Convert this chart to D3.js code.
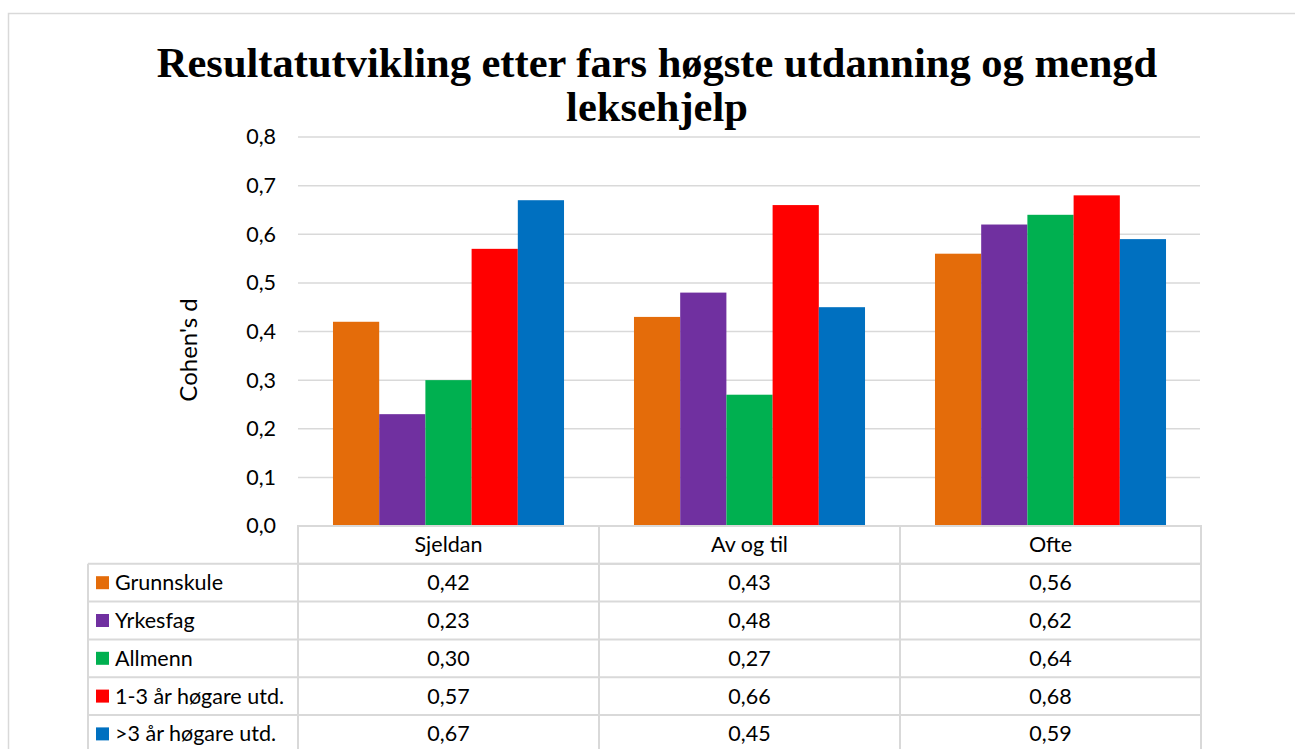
<!DOCTYPE html>
<html><head><meta charset="utf-8">
<script src="https://cdn.jsdelivr.net/npm/d3@7"></script>
<style>body{margin:0;background:#fff}svg{display:block}</style>
</head><body>
<svg id="c" width="1295" height="749"></svg>
<script>
const categories = ["Sjeldan", "Av og til", "Ofte"];
const seriesNames = ["Grunnskule", "Yrkesfag", "Allmenn", "1-3 år høgare utd.", ">3 år høgare utd."];
const grunnskule = [0.42, 0.43, 0.56];
const yrkesfag = [0.23, 0.48, 0.62];
const allmenn = [0.30, 0.27, 0.64];
const hogare13 = [0.57, 0.66, 0.68];
const hogare3 = [0.67, 0.45, 0.59];
const colors = ["#E46C0A", "#7030A0", "#00B050", "#FF0000", "#0070C0"];
const yTicks = [0, 0.1, 0.2, 0.3, 0.4, 0.5, 0.6, 0.7, 0.8];
const titleLines = ["Resultatutvikling etter fars høgste utdanning og mengd", "leksehjelp"];
const yLabel = "Cohen's d";

const seriesValues = [grunnskule, yrkesfag, allmenn, hogare13, hogare3];
const fmt = v => v.toFixed(2).replace(".", ",");
const fmtTick = v => v.toFixed(1).replace(".", ",");

const svg = d3.select("#c");
const font = "Lato, 'Open Sans', sans-serif";
const fs = 21.5;
const grid = "#d9d9d9";

// frame
svg.append("rect").attr("x", 8.5).attr("y", 13.5).attr("width", 1400).attr("height", 1000)
  .attr("fill", "#fff").attr("stroke", grid).attr("stroke-width", 1.5);

// title
svg.append("g").selectAll("text").data(titleLines).join("text")
  .attr("x", 657).attr("y", (d, i) => 77 + i * 44)
  .attr("text-anchor", "middle")
  .attr("font-family", "'Liberation Serif', 'Times New Roman', serif")
  .attr("font-weight", "bold").attr("font-size", 42.5).attr("fill", "#000")
  .text(d => d);

const pLeft = 298, pRight = 1201, pTop = 137, pBottom = 526;
const y = d3.scaleLinear().domain([0, 0.8]).range([pBottom, pTop]);
const x0 = d3.scaleBand().domain(categories).range([pLeft, pRight]).paddingInner(0).paddingOuter(0);
const x1 = d3.scaleBand().domain(d3.range(seriesNames.length)).range([0, x0.bandwidth()])
  .paddingInner(0).paddingOuter(0.757);

// gridlines
svg.append("g").selectAll("line").data(yTicks).join("line")
  .attr("x1", pLeft).attr("x2", pRight - 1)
  .attr("y1", d => y(d)).attr("y2", d => y(d))
  .attr("stroke", grid).attr("stroke-width", 1.5);

// y axis labels
const yAxis = d3.axisLeft(y).tickValues(yTicks).tickFormat(fmtTick).tickSize(0).tickPadding(22);
const ya = svg.append("g").attr("transform", `translate(${pLeft},0)`).call(yAxis);
ya.select(".domain").remove();
ya.selectAll("text").attr("font-family", font).attr("font-size", fs).attr("fill", "#000");

svg.append("text").attr("transform", `translate(197,350) rotate(-90)`)
  .attr("text-anchor", "middle").attr("font-family", font).attr("font-size", 24).attr("fill", "#000")
  .text(yLabel);

// bars
seriesValues.forEach((vals, si) => {
  svg.append("g").selectAll("rect").data(vals).join("rect")
    .attr("x", (d, ci) => x0(categories[ci]) + x1(si))
    .attr("width", x1.bandwidth())
    .attr("y", d => y(d))
    .attr("height", d => y(0) - y(d))
    .attr("fill", colors[si]);
});

// data table
const tableLeft = 88, headerTop = pBottom, rowH = 37.8;
const tg = svg.append("g");
const lineAttr = sel => sel.attr("stroke", grid).attr("stroke-width", 2).attr("fill", "none");
tg.append("rect").attr("x", pLeft).attr("y", headerTop).attr("width", pRight - pLeft).attr("height", rowH).call(lineAttr);
categories.forEach(c => {
  tg.append("line").attr("x1", x0(c)).attr("x2", x0(c)).attr("y1", headerTop).attr("y2", 760).call(lineAttr);
  tg.append("text").attr("x", x0(c) + x0.bandwidth() / 2).attr("y", headerTop + rowH / 2)
    .attr("dy", "0.35em").attr("text-anchor", "middle").attr("font-family", font).attr("font-size", fs)
    .attr("fill", "#000").text(c);
});
tg.append("line").attr("x1", pRight).attr("x2", pRight).attr("y1", headerTop).attr("y2", 760).call(lineAttr);
tg.append("line").attr("x1", tableLeft).attr("x2", tableLeft).attr("y1", headerTop + rowH).attr("y2", 760).call(lineAttr);
seriesNames.forEach((s, si) => {
  const ry = headerTop + rowH * (si + 1);
  tg.append("line").attr("x1", tableLeft).attr("x2", pRight).attr("y1", ry).attr("y2", ry).call(lineAttr);
  tg.append("rect").attr("x", 96).attr("y", ry + rowH / 2 - 6.5).attr("width", 13).attr("height", 13).attr("fill", colors[si]);
  tg.append("text").attr("x", 115).attr("y", ry + rowH / 2).attr("dy", "0.35em")
    .attr("font-family", font).attr("font-size", fs).attr("fill", "#000").text(s);
  seriesValues[si].forEach((v, ci) => {
    tg.append("text").attr("x", x0(categories[ci]) + x0.bandwidth() / 2).attr("y", ry + rowH / 2)
      .attr("dy", "0.35em").attr("text-anchor", "middle").attr("font-family", font).attr("font-size", fs)
      .attr("fill", "#000").text(fmt(v));
  });
});
</script>
</body></html>
